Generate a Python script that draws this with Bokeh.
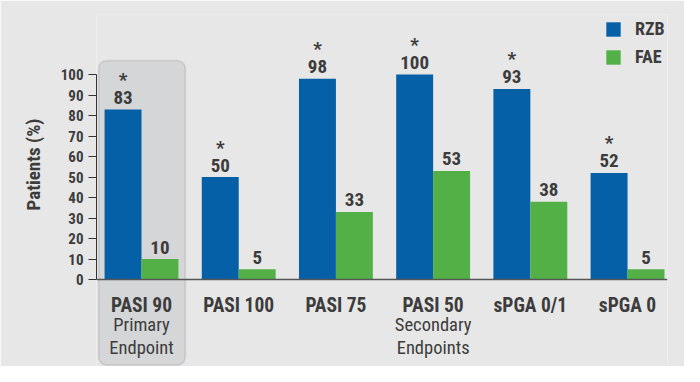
from bokeh.plotting import figure
from bokeh.models import Range1d, FixedTicker, BoxAnnotation, Label
from bokeh.embed import file_html
from bokeh.resources import INLINE
from bokeh.core.properties import value

# ---- data ----
categories = ["PASI 90", "PASI 100", "PASI 75", "PASI 50", "sPGA 0/1", "sPGA 0"]
series = ["RZB", "FAE"]
rzb = [83, 50, 98, 100, 93, 52]
fae = [10, 5, 33, 53, 38, 5]
rzb_signif = [True, True, True, True, True, True]
y_ticks = [0, 10, 20, 30, 40, 50, 60, 70, 80, 90, 100]
y_label = "Patients (%)"
primary_group = "PASI 90"
primary_text = ["Primary", "Endpoint"]
secondary_group = "PASI 50"
secondary_text = ["Secondary", "Endpoints"]

# ---- style ----
BG = "#e7e7e7"
BLUE = "#0560a8"
GREEN = "#52b047"
TEXT = "#3c3c3c"
FONT = "'Roboto Condensed', 'Liberation Sans Narrow', 'DejaVu Sans Condensed', Roboto, sans-serif"
BW = 0.38

idx = list(range(len(categories)))
x_rzb = [i - BW / 2 for i in idx]
x_fae = [i + BW / 2 for i in idx]

p = figure(width=684, height=366, output_backend="svg", toolbar_location=None,
           x_range=Range1d(-0.463, 5.411), y_range=Range1d(-42.4, 129.3),
           min_border_left=96, min_border_right=17, min_border_top=14, min_border_bottom=0,
           background_fill_color=BG, border_fill_color=BG, outline_line_color=None,
           title=y_label, title_location="left")

p.title.align = "left"
p.title.offset = 156
p.title.text_font = FONT
p.title.text_font_size = "19px"
p.title.text_font_style = "bold"
p.title.text_color = TEXT
p.title.standoff = 26

# highlight box behind the primary endpoint
pi = categories.index(primary_group)
box = BoxAnnotation(left=pi - 0.44, right=pi + 0.45, top=106.8, bottom=-41.7,
                    fill_color="#d5d6d8", fill_alpha=1.0, line_color="#9a9a9a",
                    line_width=1.8, border_radius=8, level="underlay")
p.add_layout(box)

p.vbar(x=x_rzb, top=rzb, width=BW, color=BLUE, line_color=None, legend_label=series[0])
p.vbar(x=x_fae, top=fae, width=BW, color=GREEN, line_color=None, legend_label=series[1])

lab_kw = dict(text_align="center", text_baseline="alphabetic", text_font=value(FONT),
              text_font_size="19px", text_font_style="bold", text_color=TEXT)
p.text(x=x_rzb, y=rzb, text=[str(v) for v in rzb], y_offset=-12, **lab_kw)
p.text(x=x_fae, y=fae, text=[str(v) for v in fae], y_offset=-12, **lab_kw)
sx = [x for x, s in zip(x_rzb, rzb_signif) if s]
sy = [v for v, s in zip(rzb, rzb_signif) if s]
p.text(x=sx, y=sy, text=["*"] * len(sx), y_offset=-30, **lab_kw)

# axes
p.xgrid.visible = False
p.ygrid.visible = False
p.xaxis.fixed_location = 0
p.xaxis.ticker = FixedTicker(ticks=idx)
p.xaxis.major_label_overrides = {i: c for i, c in enumerate(categories)}
p.xaxis.major_tick_out = 0
p.xaxis.major_tick_in = 0
p.xaxis.minor_tick_out = 0
p.xaxis.minor_tick_in = 0
p.xaxis.axis_line_color = "#555555"
p.xaxis.axis_line_width = 1.5
p.xaxis.major_label_text_font = FONT
p.xaxis.major_label_text_font_size = "19.5px"
p.xaxis.major_label_text_font_style = "bold"
p.xaxis.major_label_text_color = TEXT
p.xaxis.major_label_standoff = 14

p.yaxis.ticker = FixedTicker(ticks=y_ticks)
p.yaxis.bounds = (0, 100)
p.yaxis.major_tick_out = 8
p.yaxis.major_tick_in = 0
p.yaxis.minor_tick_out = 0
p.yaxis.minor_tick_in = 0
p.yaxis.axis_line_color = "#333333"
p.yaxis.major_tick_line_color = "#333333"
p.yaxis.major_label_text_font = FONT
p.yaxis.major_label_text_font_size = "15px"
p.yaxis.major_label_text_font_style = "bold"
p.yaxis.major_label_text_color = TEXT
p.yaxis.major_label_standoff = 5

# sub-labels under the axis
si = categories.index(secondary_group)
for gi, lines in ((pi, primary_text), (si, secondary_text)):
    for k, t in enumerate(lines):
        p.add_layout(Label(x=gi, y=0, text=t, y_offset=-45 - 23 * k,
                           text_align="center", text_baseline="alphabetic",
                           text_font=FONT, text_font_size="18.5px", text_color=TEXT))

# legend
lg = p.legend[0]
lg.location = (508, 299)
lg.margin = 0
lg.padding = 0
lg.spacing = 7
lg.glyph_width = 18
lg.glyph_height = 18
lg.label_height = 18
lg.label_standoff = 13
lg.border_line_color = None
lg.background_fill_alpha = 0
lg.label_text_font = FONT
lg.label_text_font_size = "18px"
lg.label_text_font_style = "bold"
lg.label_text_color = TEXT

html = file_html(p, INLINE)
html = html.replace("<body>", '<body style="background-color:%s">' % BG, 1)
open("out.html", "w").write(html)
